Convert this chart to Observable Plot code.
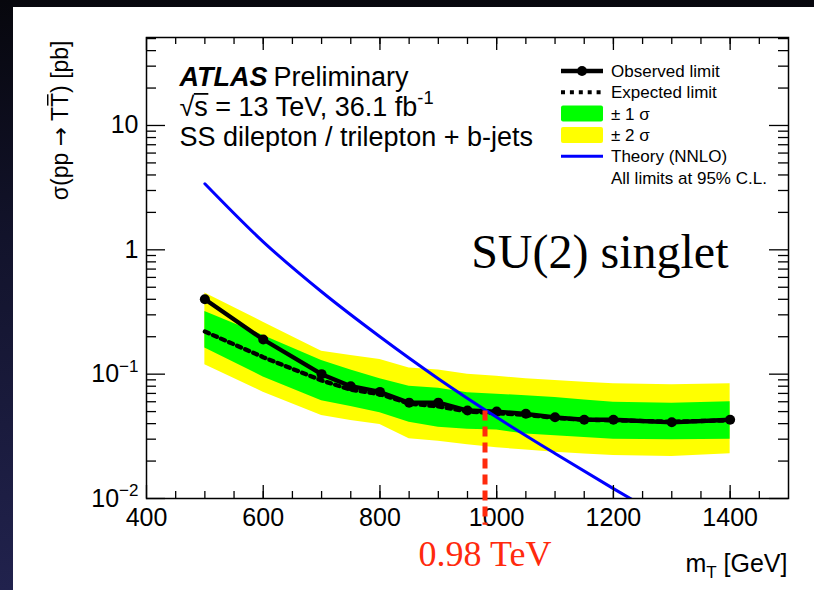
<!DOCTYPE html>
<html><head><meta charset="utf-8">
<script src="https://cdn.jsdelivr.net/npm/d3@7"></script>
<script src="https://cdn.jsdelivr.net/npm/@observablehq/plot@0.6"></script>
<style>
html,body{margin:0;padding:0;width:814px;height:590px;overflow:hidden;}
body{background:linear-gradient(to bottom,#07070d 0%,#12132b 40%,#21224d 100%);position:relative;font-family:"Liberation Sans",Arial,sans-serif;}
#paper{position:absolute;left:13px;top:7px;width:801px;height:583px;background:#fff;}
#legend{position:absolute;left:0;top:0;pointer-events:none;}
</style></head><body>
<div id="paper"></div>
<svg id="legend" width="814" height="590"></svg>
<script>
// ---- data ----
const massPoints    = [500, 600, 700, 750, 800, 850, 900, 950, 1000, 1050, 1100, 1150, 1200, 1300, 1400];
const observedLimit = [0.40, 0.19, 0.100, 0.080, 0.072, 0.059, 0.059, 0.051, 0.050, 0.048, 0.045, 0.043, 0.043, 0.041, 0.043];
const expectedLimit = [0.22, 0.137, 0.089, 0.075, 0.069, 0.058, 0.055, 0.050, 0.0486, 0.047, 0.0445, 0.043, 0.0425, 0.0415, 0.0425];
const oneSigmaLow   = [0.162, 0.095, 0.061, 0.055, 0.049, 0.041, 0.0375, 0.036, 0.0355, 0.033, 0.032, 0.031, 0.030, 0.0297, 0.030];
const oneSigmaHigh  = [0.319, 0.205, 0.129, 0.108, 0.092, 0.080, 0.077, 0.071, 0.069, 0.067, 0.065, 0.062, 0.0595, 0.0584, 0.060];
const twoSigmaLow   = [0.119, 0.0716, 0.0465, 0.0424, 0.0394, 0.0302, 0.0289, 0.027, 0.0256, 0.0245, 0.0236, 0.0228, 0.0222, 0.0218, 0.0229];
const twoSigmaHigh  = [0.449, 0.262, 0.153, 0.141, 0.131, 0.112, 0.108, 0.100, 0.096, 0.092, 0.089, 0.086, 0.0836, 0.0822, 0.0836];
const theoryMass    = [500, 600, 700, 800, 900, 1000, 1100, 1200, 1300];
const theoryXsec    = [3.4, 1.16, 0.46, 0.20, 0.092, 0.045, 0.023, 0.012, 0.0064];
const excludedMass  = [980];
const crossingXsec  = 0.0505;
const ruleBottomXsec = 0.0061;
const xTickValues = [400, 600, 800, 1000, 1200, 1400];
const xTickLabels = ["400", "600", "800", "1000", "1200", "1400"];
const yTickValues = [0.01, 0.1, 1, 10];
const yTickLabels = ["10^{\u22122}", "10^{\u22121}", "1", "10"];
const legendLabels = ["Observed limit", "Expected limit", "\u00b1 1 \u03c3", "\u00b1 2 \u03c3", "Theory (NNLO)", "All limits at 95% C.L."];
const headerLines = ["\u221a!{s} = 13 TeV, 36.1 fb^{-1}", "SS dilepton / trilepton + b-jets"];
const yTitle = "\u03c3(pp @{\u2192} T~{T}) [pb]";
const xTitle = "m_{T} [GeV]";

// ---- tables ----
const limits = massPoints.map((m, i) => ({
  m, obs: observedLimit[i], exp: expectedLimit[i],
  lo1: oneSigmaLow[i], hi1: oneSigmaHigh[i], lo2: twoSigmaLow[i], hi2: twoSigmaHigh[i]
}));
const theory = theoryMass.map((m, i) => ({m, xs: theoryXsec[i]}));

const xMinor = d3.range(450, 1500, 50);
const yMinor = [0.01, 0.1, 1, 10].flatMap(d => [2,3,4,5,6,7,8,9].map(k => k * d)).filter(v => v <= 51);

const W = 801, H = 583, mL = 133, mR = 26, mT = 30, mB = 92;
const FW = W - mL - mR, FH = H - mT - mB;
const sans = '"Liberation Sans", Arial, Helvetica, sans-serif';
const serif = '"Liberation Serif", "Times New Roman", serif';
const red = "#ff2a0d";

const tk = {stroke: "black", strokeWidth: 1.3};
const chart = Plot.plot({
  width: W, height: H,
  marginLeft: mL, marginRight: mR, marginTop: mT, marginBottom: mB,
  x: {domain: [400, 1500], label: null},
  y: {type: "log", domain: [0.01, 51], label: null},
  style: {fontFamily: sans, fontSize: "25px", background: "transparent", overflow: "visible", color: "black"},
  marks: [
    Plot.areaY(limits, {x: "m", y1: "lo2", y2: "hi2", fill: "#ffff00"}),
    Plot.areaY(limits, {x: "m", y1: "lo1", y2: "hi1", fill: "#00ff00"}),
    Plot.line(limits, {x: "m", y: "exp", stroke: "black", strokeWidth: 4.3, strokeDasharray: "4.3,4.5"}),
    Plot.line(limits, {x: "m", y: "obs", stroke: "black", strokeWidth: 4.3}),
    Plot.dot(limits, {x: "m", y: "obs", r: 5, fill: "black"}),
    Plot.line(theory, {x: "m", y: "xs", stroke: "#0000ff", strokeWidth: 3, curve: "monotone-x", clip: true}),
    // inward ticks, all four sides
    Plot.ruleX(xMinor, {x: d => d, insetTop: FH - 7, ...tk}),
    Plot.ruleX(xMinor, {x: d => d, insetBottom: FH - 7, ...tk}),
    Plot.ruleX(xTickValues, {x: d => d, insetTop: FH - 13, ...tk}),
    Plot.ruleX(xTickValues, {x: d => d, insetBottom: FH - 13, ...tk}),
    Plot.ruleY(yMinor, {y: d => d, insetRight: FW - 10, ...tk}),
    Plot.ruleY(yMinor, {y: d => d, insetLeft: FW - 10, ...tk}),
    Plot.ruleY(yTickValues, {y: d => d, insetRight: FW - 19, ...tk}),
    Plot.ruleY(yTickValues, {y: d => d, insetLeft: FW - 19, ...tk}),
    Plot.frame({stroke: "black", strokeWidth: 1.5}),
    Plot.axisX({ticks: xTickValues, tickFormat: d => xTickLabels[xTickValues.indexOf(d)], tickSize: 0, tickPadding: 10, fontSize: 25, label: null}),
    Plot.axisY({ticks: yTickValues, tickFormat: d => yTickLabels[yTickValues.indexOf(d)], tickSize: 0, tickPadding: 8, fontSize: 25, label: null}),
    // excluded-mass marker
    Plot.ruleX(excludedMass, {x: d => d, y1: crossingXsec, y2: ruleBottomXsec, stroke: red, strokeWidth: 5, strokeDasharray: "10,6"}),
    Plot.text(excludedMass, {x: d => d, text: d => (d / 1000).toFixed(2) + " TeV", frameAnchor: "bottom", dy: 67, lineAnchor: "bottom", fontSize: 36, fontFamily: serif, fill: red}),
    // annotations
    Plot.text(["ATLAS"], {text: d => d, frameAnchor: "top-left", textAnchor: "start", lineAnchor: "bottom", dx: 33, dy: 48, fontSize: 27, fontWeight: "bold", fontStyle: "italic"}),
    Plot.text(["Preliminary"], {text: d => d, frameAnchor: "top-left", textAnchor: "start", lineAnchor: "bottom", dx: 127, dy: 48, fontSize: 27}),
    Plot.text([headerLines[0]], {text: d => d, frameAnchor: "top-left", textAnchor: "start", lineAnchor: "bottom", dx: 33, dy: 78, fontSize: 27}),
    Plot.text([headerLines[1]], {text: d => d, frameAnchor: "top-left", textAnchor: "start", lineAnchor: "bottom", dx: 33, dy: 108, fontSize: 27}),
    Plot.text(["SU(2) singlet"], {text: d => d, frameAnchor: "top-right", textAnchor: "end", lineAnchor: "bottom", dx: -60, dy: 230, fontSize: 48, fontFamily: serif}),
    Plot.text([yTitle], {text: d => d, frameAnchor: "top-left", rotate: -90, textAnchor: "end", lineAnchor: "bottom", dx: -79, dy: 3, fontSize: 23}),
    Plot.text([xTitle], {text: d => d, frameAnchor: "bottom-right", textAnchor: "end", lineAnchor: "bottom", dx: -1, dy: 73, fontSize: 25})
  ]
});
document.getElementById("paper").appendChild(chart);

// ---- super/subscript, overline and font-switch markup ----
const NS = "http://www.w3.org/2000/svg";
function richify(root) {
  root.querySelectorAll("text").forEach(t => {
    const s = t.textContent;
    if (!/[\^_~!@]\{/.test(s)) return;
    const fs = parseFloat(getComputedStyle(t).fontSize) || 25;
    while (t.firstChild) t.removeChild(t.firstChild);
    let cur = 0;
    const bars = [];
    const add = (txt, kind) => {
      if (!txt) return;
      const ts = document.createElementNS(NS, "tspan");
      let off = 0;
      if (kind === "^") { off = -0.42 * fs; ts.setAttribute("font-size", (0.68 * fs) + "px"); }
      else if (kind === "_") { off = 0.26 * fs; ts.setAttribute("font-size", (0.68 * fs) + "px"); }
      else if (kind === "@") { ts.setAttribute("font-family", "DejaVu Sans"); }
      if (off - cur !== 0) ts.setAttribute("dy", (off - cur) + "px");
      cur = off;
      ts.textContent = txt;
      t.appendChild(ts);
      if (kind === "~" || kind === "!") bars.push({ts, kind, n: txt.length});
    };
    const re = /([\^_~!@])\{([^}]*)\}/g;
    let last = 0, m;
    while ((m = re.exec(s))) {
      add(s.slice(last, m.index), "");
      add(m[2], m[1]);
      last = re.lastIndex;
    }
    add(s.slice(last), "");
    bars.forEach(({ts, kind, n}) => {
      const p0 = ts.getStartPositionOfChar(0), p1 = ts.getEndPositionOfChar(n - 1);
      const lift = kind === "!" ? 0.80 * fs : 0.86 * fs;
      const x0 = kind === "!" ? p0.x - 0.5 : p0.x + 0.06 * fs;
      const x1 = kind === "!" ? p1.x + 0.5 : p1.x - 0.06 * fs;
      const ln = document.createElementNS(NS, "line");
      ln.setAttribute("x1", x0); ln.setAttribute("x2", x1);
      ln.setAttribute("y1", p0.y - lift); ln.setAttribute("y2", p0.y - lift);
      ln.setAttribute("stroke", "black"); ln.setAttribute("stroke-width", Math.max(1.2, 0.065 * fs));
      const tr = t.getAttribute("transform");
      if (tr) ln.setAttribute("transform", tr);
      t.parentNode.appendChild(ln);
    });
  });
}
richify(chart);

// ---- legend ----
const lg = d3.select("#legend");
const lx1 = 561, lx2 = 603, tx = 611, y0 = 71, dyRow = 21.3;
const rowY = i => y0 + i * dyRow;
lg.append("line").attr("x1", lx1).attr("x2", lx2).attr("y1", rowY(0)).attr("y2", rowY(0)).attr("stroke", "black").attr("stroke-width", 4.5);
lg.append("circle").attr("cx", (lx1 + lx2) / 2).attr("cy", rowY(0)).attr("r", 5).attr("fill", "black");
lg.append("line").attr("x1", lx1).attr("x2", lx2 - 2).attr("y1", rowY(1)).attr("y2", rowY(1)).attr("stroke", "black").attr("stroke-width", 4).attr("stroke-dasharray", "4,4.9");
lg.append("rect").attr("x", lx1).attr("y", rowY(2) - 8).attr("width", lx2 - lx1).attr("height", 16).attr("rx", 2).attr("fill", "#00ff00");
lg.append("rect").attr("x", lx1).attr("y", rowY(3) - 8).attr("width", lx2 - lx1).attr("height", 16).attr("rx", 2).attr("fill", "#ffff00");
lg.append("line").attr("x1", lx1).attr("x2", lx2).attr("y1", rowY(4)).attr("y2", rowY(4)).attr("stroke", "#0000ff").attr("stroke-width", 3);
legendLabels.forEach((lab, i) => {
  lg.append("text").attr("x", tx).attr("y", rowY(i) + 6).attr("font-family", sans).attr("font-size", 17).attr("fill", "black").text(lab);
});
</script>
</body></html>
